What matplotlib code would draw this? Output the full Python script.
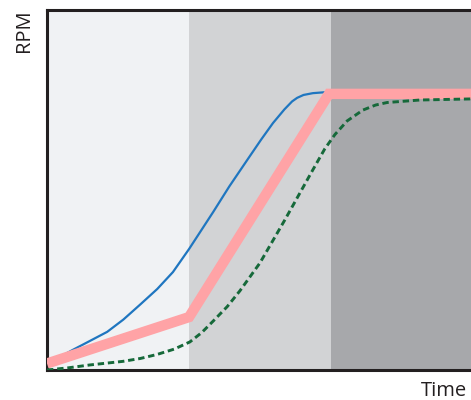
import matplotlib.pyplot as plt

# phase boundaries (time)
phase_edges = [0, 3.35, 6.7, 10]
phase_colors = ["#f0f2f4", "#d2d3d5", "#a7a8ab"]

# commanded speed (pink)
cmd_t = [0, 3.35, 6.65, 10]
cmd_rpm = [1.8, 14.7, 76.7, 76.7]

# fast response (blue)
fast_t = [0, 0.30, 0.61, 1.00, 1.42, 1.80, 2.19, 2.60, 2.97, 3.35, 3.92, 4.30, 4.72,
          5.05, 5.33, 5.60, 5.78, 5.90, 6.05, 6.27, 6.60, 10]
fast_rpm = [1.9, 3.6, 5.6, 8.0, 10.6, 14.0, 18.1, 22.5, 27.2, 33.6, 43.9, 51.0, 58.3,
            64.0, 68.6, 72.4, 74.6, 75.6, 76.4, 76.9, 77.2, 77.2]

# slow response (green dashed)
slow_t = [0, 0.50, 1.01, 1.79, 2.20, 2.59, 3.00, 3.37, 3.65, 3.92, 4.25, 4.55, 5.02,
          5.61, 6.27, 6.55, 6.79, 7.08, 7.45, 7.75, 8.02, 8.80, 10]
slow_rpm = [0, 0.6, 1.4, 2.4, 3.2, 4.3, 5.8, 7.8, 10.4, 13.6, 17.6, 22.0, 29.7,
            41.7, 55.6, 61.4, 65.4, 69.2, 72.2, 73.6, 74.3, 75.0, 75.3]

plt.rcParams["font.family"] = ["Open Sans", "DejaVu Sans"]

fig = plt.figure(figsize=(4.71, 4.0), dpi=100)
ax = fig.add_axes([47 / 471, 30 / 400, 1 - 47 / 471, 360 / 400])

for i in range(len(phase_colors)):
    ax.axvspan(phase_edges[i], phase_edges[i + 1], color=phase_colors[i], lw=0, zorder=0)

ax.plot(fast_t, fast_rpm, color="#1f76c0", lw=1.6, zorder=2)
ax.plot(cmd_t, cmd_rpm, color="#ffa3a6", lw=7.5, solid_joinstyle="miter",
        solid_capstyle="butt", zorder=3)
ax.plot(slow_t, slow_rpm, color="#16693a", lw=2.1, dashes=(2.2, 1.3), zorder=4)

ax.set_xlim(0, 10)
ax.set_ylim(0, 100)
ax.set_xticks([])
ax.set_yticks([])
ax.spines["right"].set_visible(False)
for s in ["left", "top", "bottom"]:
    ax.spines[s].set_linewidth(2.2)
    ax.spines[s].set_color("#231f20")

fig.text(34 / 471, 1 - 9 / 400, "RPM", rotation=90, ha="right", va="top",
         fontsize=14.5, color="#231f20")
fig.text(421 / 471, 4 / 400, "Time", ha="left", va="baseline",
         fontsize=14.5, color="#231f20")

fig.savefig("out.png", dpi=100)
